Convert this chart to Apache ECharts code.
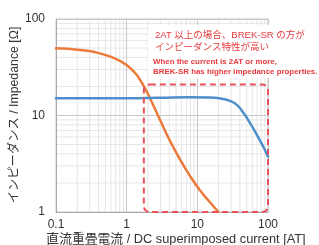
<!DOCTYPE html>
<html><head><meta charset="utf-8">
<script src="https://cdn.jsdelivr.net/npm/echarts@6/dist/echarts.min.js"></script>
<style>html,body{margin:0;padding:0;background:#fff}#c{width:319px;height:245px}</style>
</head><body><div id="c"></div>
<script>
const xTicks = [0.1, 1, 10, 100];
const yTicks = [1, 10, 100];
const orangeX = [0.1, 0.2185, 0.419, 0.804, 1.228, 1.62, 2.136, 2.958, 4.096, 5.675, 7.86, 10.89, 15.08, 19.9];
const orangeY = [49.7, 47.7, 44.0, 36.9, 29.2, 22.2, 15.08, 9.03, 5.47, 3.52, 2.37, 1.68, 1.26, 1.0];
const blueX = [0.1, 1, 2.958, 7.86, 15.08, 22.28, 28.9, 35.97, 44.6, 55.5, 69.0, 85.5, 100];
const blueY = [15.08, 15.08, 15.26, 15.44, 15.37, 14.9, 14.2, 12.97, 10.74, 8.4, 6.36, 4.77, 3.74];
const highlightBox = {x0: 1.75, x1: 100, y0: 1, y1: 21};
const noteLines = ['2AT 以上の場合、BREK-SR の方が', 'インピーダンス特性が高い'];
const noteLinesEn = ['When the current is 2AT or more,', 'BREK-SR has higher impedance properties.'];
const xName = '直流重畳電流 / DC superimposed current [AT]';
const yName = 'インピーダンス / Impedance [Ω]';

const FONT = '"Liberation Sans", "Noto Sans CJK JP", sans-serif';
const chart = echarts.init(document.getElementById('c'), null, {renderer: 'canvas'});
const zip = (a, b) => a.map((v, i) => [v, b[i]]);
chart.setOption({
  animation: false,
  grid: {left: 56, right: 51, top: 19, bottom: 33, containLabel: false},
  xAxis: {
    type: 'log', logBase: 10, min: xTicks[0], max: xTicks[xTicks.length - 1],
    axisLine: {show: true, lineStyle: {color: '#aaa', width: 1}},
    axisTick: {show: false},
    axisLabel: {color: '#333', fontSize: 12, fontFamily: FONT, margin: 7,
      formatter: v => String(+(+v).toPrecision(3))},
    splitLine: {show: true, lineStyle: {color: '#c8c8c8', width: 1}}
  },
  yAxis: {
    type: 'log', logBase: 10, min: yTicks[0], max: yTicks[yTicks.length - 1],
    axisLine: {show: true, lineStyle: {color: '#aaa', width: 1}},
    axisTick: {show: false},
    axisLabel: {color: '#333', fontSize: 12, fontFamily: FONT, margin: 11,
      formatter: v => String(+(+v).toPrecision(3))},
    splitLine: {show: true, lineStyle: {color: '#c8c8c8', width: 1}}
  },
  series: [
    {type: 'line', data: zip(orangeX, orangeY), smooth: 0.5, showSymbol: false,
      lineStyle: {color: '#ec7b3b', width: 2.5, cap: 'round', join: 'round'}, z: 3},
    {type: 'line', data: zip(blueX, blueY), smooth: 0.5, showSymbol: false,
      lineStyle: {color: '#4e8fcb', width: 2.5, cap: 'round', join: 'round'}, z: 4}
  ]
});

const px = (x, y) => chart.convertToPixel({gridIndex: 0}, [x, y]);
const g = [];
const [xl, yb] = px(xTicks[0], yTicks[0]);
const [xr, yt] = px(xTicks[xTicks.length - 1], yTicks[yTicks.length - 1]);
for (let d = 0.1; d < 100; d *= 10) {
  for (let k = 2; k <= 9; k++) {
    const x = px(d * k, 1)[0];
    g.push({type: 'line', z: -1, silent: true, shape: {x1: x, y1: yt, x2: x, y2: yb},
      style: {stroke: '#e6e6e6', lineWidth: 1}});
  }
}
for (let d = 1; d < 100; d *= 10) {
  for (let k = 2; k <= 9; k++) {
    const y = px(1, d * k)[1];
    g.push({type: 'line', z: -1, silent: true, shape: {x1: xl, y1: y, x2: xr, y2: y},
      style: {stroke: '#e6e6e6', lineWidth: 1}});
  }
}
g.push({type: 'rect', z: 0, silent: true, shape: {x: xl, y: yt, width: xr - xl, height: yb - yt},
  style: {fill: null, stroke: '#c8c8c8', lineWidth: 1}});
const [bx0, by0] = px(highlightBox.x0, highlightBox.y1);
const [bx1, by1] = px(highlightBox.x1, highlightBox.y0);
g.push({type: 'rect', z: 20, silent: true, shape: {x: bx0, y: by0, width: bx1 - bx0, height: by1 - by0, r: 6},
  style: {fill: null, stroke: '#e8505b', lineWidth: 2, lineDash: [6, 4]}});
g.push({type: 'rect', z: 15, silent: true, shape: {x: 148, y: 25, width: 171, height: 53},
  style: {fill: '#fff'}});
g.push({type: 'text', z: 21, x: 155, y: 35, style: {text: noteLines[0], fill: '#e8383d',
  font: '9.5px ' + FONT, verticalAlign: 'middle'}});
g.push({type: 'text', z: 21, x: 155, y: 47, style: {text: noteLines[1], fill: '#e8383d',
  font: '9.5px ' + FONT, verticalAlign: 'middle'}});
g.push({type: 'text', z: 21, x: 153, y: 62, style: {text: noteLinesEn[0], fill: '#e8383d',
  font: 'bold 7.9px ' + FONT, verticalAlign: 'middle'}});
g.push({type: 'text', z: 21, x: 153, y: 72, style: {text: noteLinesEn[1], fill: '#e8383d',
  font: 'bold 7.9px ' + FONT, verticalAlign: 'middle'}});
g.push({type: 'text', z: 21, x: 176, y: 239, style: {text: xName, fill: '#333',
  font: '12.8px ' + FONT, align: 'center', verticalAlign: 'middle'}});
g.push({type: 'text', z: 21, x: 15, y: 115, rotation: Math.PI / 2, style: {text: yName, fill: '#333',
  font: '12.3px ' + FONT, align: 'center', verticalAlign: 'middle'}});
chart.setOption({graphic: {elements: g}});
</script>
</body></html>
